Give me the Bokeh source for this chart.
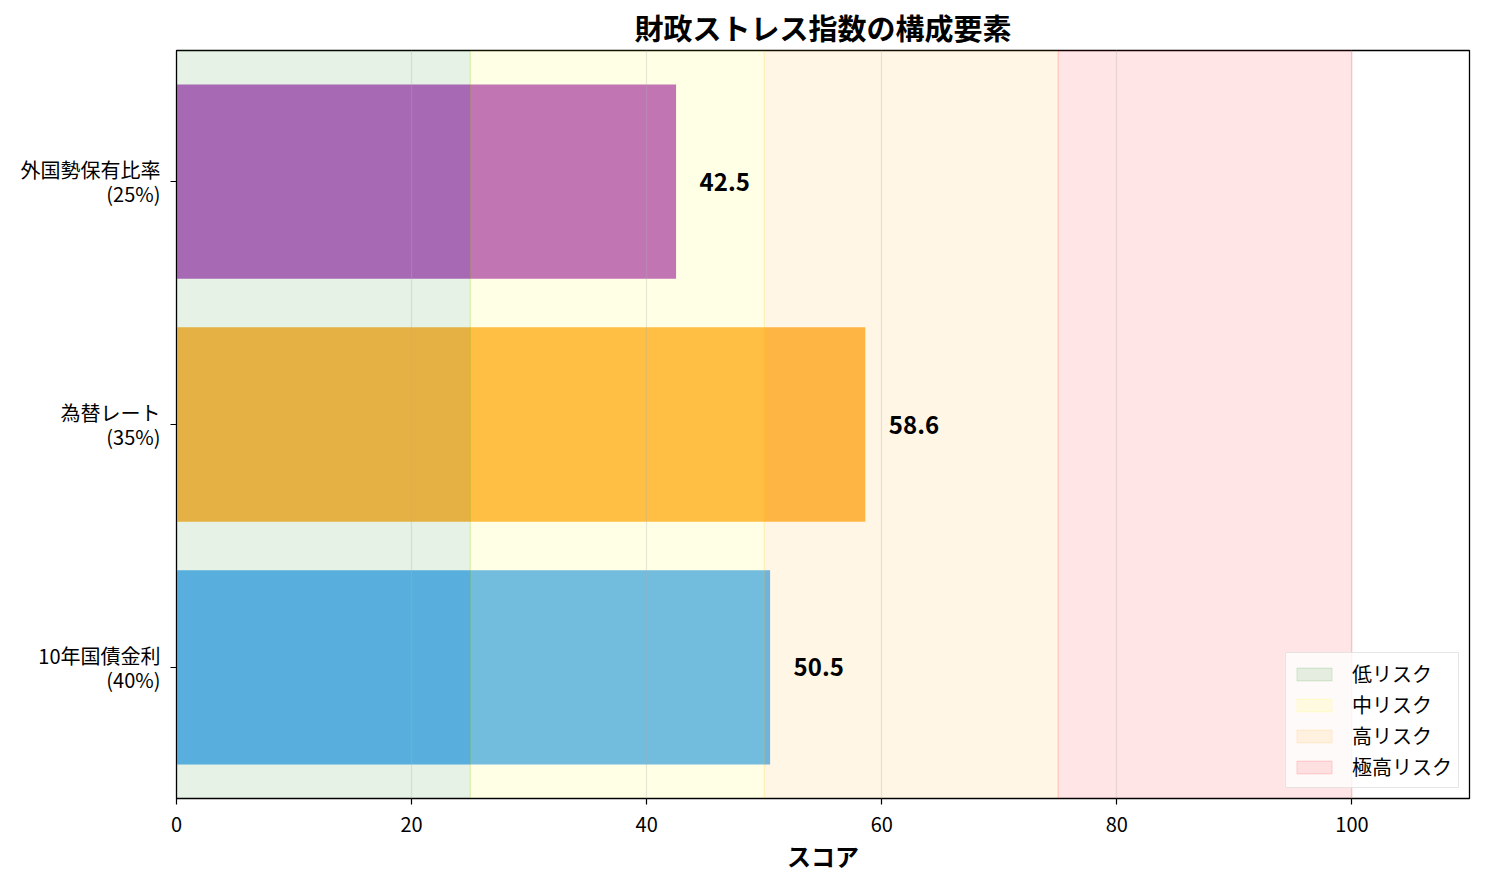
from bokeh.plotting import figure
from bokeh.models import ColumnDataSource, Range1d, FixedTicker
from bokeh.core.properties import value
from bokeh.embed import file_html
from bokeh.resources import INLINE

# stress index components, bottom to top
components = ['10年国債金利', '為替レート', '外国勢保有比率']
weights = ['40%', '35%', '25%']
scores = [50.5, 58.6, 42.5]
bar_colors = ['#2196F3', '#FF9800', '#9C27B0']

# risk zones
zone_names = ['低リスク', '中リスク', '高リスク', '極高リスク']
zone_lo = [0, 25, 50, 75]
zone_hi = [25, 50, 75, 100]
zone_colors = ['green', 'yellow', 'orange', 'red']

x_ticks = [0, 20, 40, 60, 80, 100]

FONT = "Noto Sans CJK JP"


def stress_plot():
    ypos = list(range(len(components)))
    y_range = Range1d(-0.54, len(components) - 1 + 0.54)

    p = figure(width=1477, height=875,
               title="財政ストレス指数の構成要素",
               x_range=Range1d(0, 110),
               y_range=y_range,
               output_backend="svg",
               toolbar_location=None,
               min_border_left=176, min_border_right=8,
               min_border_top=8, min_border_bottom=10)

    bar_source = ColumnDataSource(data={
        'y': ypos,
        'score': scores,
        'color': bar_colors,
        'label_x': [s + 2 for s in scores],
        'label': ['{:.1f}'.format(s) for s in scores],
    })

    p.hbar(y='y', right='score', left=0, height=0.8,
           fill_color='color', fill_alpha=0.7, line_color=None,
           source=bar_source)

    # zones are drawn over the bars, like axvspan in the original
    for name, lo, hi, col in zip(zone_names, zone_lo, zone_hi, zone_colors):
        p.quad(left=lo, right=hi, bottom=y_range.start, top=y_range.end,
               fill_color=col, fill_alpha=0.1,
               line_color=col, line_alpha=0.12, line_width=1.2,
               legend_label=name)

    p.text(x='label_x', y='y', text='label', source=bar_source,
           text_font=value(FONT), text_font_size='24px', text_font_style='bold',
           text_color='black', text_baseline='middle', text_align='left')

    p.title.text_font = FONT
    p.title.text_font_size = '29px'
    p.title.text_font_style = 'bold'
    p.title.text_color = 'black'
    p.title.align = 'center'
    p.title.standoff = 6

    p.xaxis.ticker = FixedTicker(ticks=x_ticks)
    p.xaxis.axis_label = 'スコア'
    p.xaxis.axis_label_text_font = FONT
    p.xaxis.axis_label_text_font_size = '24px'
    p.xaxis.axis_label_text_font_style = 'bold'
    p.xaxis.axis_label_text_color = 'black'
    p.xaxis.axis_label_standoff = 3

    p.yaxis.ticker = FixedTicker(ticks=ypos)
    p.yaxis.major_label_overrides = {
        i: '{}\n({})'.format(c, w) for i, (c, w) in enumerate(zip(components, weights))
    }
    p.yaxis.major_label_text_line_height = 0.85

    for ax in (p.xaxis, p.yaxis):
        ax.major_label_text_font = FONT
        ax.major_label_text_font_size = '20px'
        ax.major_label_text_color = 'black'
        ax.major_tick_in = 0
        ax.major_tick_out = 6
        ax.major_tick_line_color = 'black'
        ax.major_tick_line_width = 1.2
        ax.minor_tick_line_color = None
        ax.axis_line_color = 'black'
    p.xaxis.major_label_standoff = 12
    p.yaxis.major_label_standoff = 10

    p.outline_line_color = 'black'
    p.outline_line_width = 1.3
    p.outline_line_alpha = 1

    p.ygrid.grid_line_color = None
    p.xgrid.ticker = FixedTicker(ticks=x_ticks)
    p.xgrid.grid_line_color = '#b0b0b0'
    p.xgrid.grid_line_alpha = 0.3
    p.xgrid.grid_line_width = 1.2
    p.xgrid.level = 'guide'

    p.legend.location = 'bottom_right'
    p.legend.margin = 10
    p.legend.padding = 6
    p.legend.spacing = 2
    p.legend.glyph_width = 44
    p.legend.glyph_height = 16
    p.legend.label_height = 24
    p.legend.label_standoff = 16
    p.legend.label_text_font = FONT
    p.legend.label_text_font_size = '20px'
    p.legend.label_text_color = 'black'
    p.legend.label_text_line_height = 1.0
    p.legend.border_line_color = '#cccccc'
    p.legend.background_fill_alpha = 0.8

    return p


if __name__ == '__main__':
    p = stress_plot()
    open("out.html", "w").write(file_html(p, INLINE))
